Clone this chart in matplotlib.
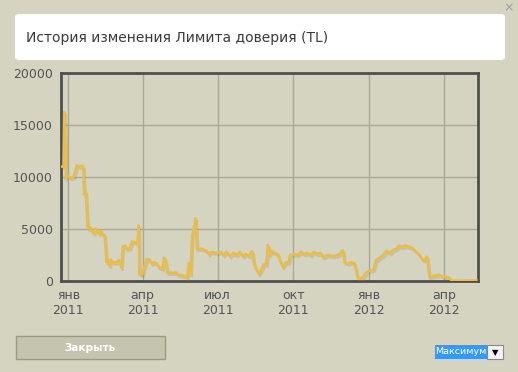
import matplotlib
matplotlib.use("Agg")
import matplotlib.pyplot as plt
import matplotlib.dates as mdates
import matplotlib.patheffects as pe
from matplotlib.patches import FancyBboxPatch, Rectangle

dates = [
 "2010-12-24","2010-12-26","2010-12-27","2010-12-28","2010-12-29","2011-01-01","2011-01-04","2011-01-07",
 "2011-01-09","2011-01-11","2011-01-14","2011-01-17","2011-01-19","2011-01-20","2011-01-22","2011-01-24",
 "2011-01-25","2011-01-27","2011-01-29","2011-02-01","2011-02-03","2011-02-05","2011-02-07","2011-02-09",
 "2011-02-11","2011-02-14","2011-02-16","2011-02-18","2011-02-20","2011-02-21","2011-02-24","2011-03-01",
 "2011-03-03","2011-03-05","2011-03-06","2011-03-08","2011-03-11","2011-03-13","2011-03-17","2011-03-19",
 "2011-03-24","2011-03-26","2011-03-27","2011-03-28","2011-03-31","2011-04-01","2011-04-03","2011-04-06",
 "2011-04-09","2011-04-12","2011-04-15","2011-04-18","2011-04-21","2011-04-25","2011-04-27","2011-04-29",
 "2011-05-01","2011-05-08","2011-05-12","2011-05-14","2011-05-22","2011-05-25","2011-05-27","2011-05-28",
 "2011-05-29","2011-05-31","2011-06-02","2011-06-04","2011-06-06","2011-06-12","2011-06-18","2011-06-20",
 "2011-06-24","2011-06-30","2011-07-05","2011-07-08","2011-07-12","2011-07-16","2011-07-20","2011-07-24",
 "2011-07-28","2011-08-01","2011-08-04","2011-08-08","2011-08-12","2011-08-14","2011-08-17","2011-08-20",
 "2011-08-23","2011-08-26","2011-08-29","2011-08-31","2011-09-02","2011-09-05","2011-09-08","2011-09-12",
 "2011-09-15","2011-09-18","2011-09-22","2011-09-25","2011-09-27","2011-10-02","2011-10-06","2011-10-10",
 "2011-10-14","2011-10-18","2011-10-22","2011-10-26","2011-10-30","2011-11-03","2011-11-06","2011-11-12",
 "2011-11-18","2011-11-24","2011-11-27","2011-11-30","2011-12-02","2011-12-06","2011-12-10","2011-12-14",
 "2011-12-18","2011-12-24","2011-12-28","2012-01-01","2012-01-06","2012-01-09","2012-01-13","2012-01-18",
 "2012-01-22","2012-01-26","2012-01-30","2012-02-03","2012-02-06","2012-02-10","2012-02-14","2012-02-18",
 "2012-02-22","2012-02-26","2012-03-01","2012-03-05","2012-03-08","2012-03-11","2012-03-14","2012-03-20",
 "2012-03-26","2012-03-30","2012-04-06","2012-04-10","2012-05-10",
]
values = [
 11000,11000,16300,14000,9900,10100,9900,10000,
 10500,11100,11000,11100,11000,8400,8500,5400,
 5000,5300,4800,4600,5000,4900,4500,4900,
 4500,4400,1900,2000,1400,2100,1800,1800,
 2000,1900,1200,3300,3400,3100,3200,3800,
 3700,3800,5400,700,600,700,1400,2100,
 2100,1700,1800,1700,1300,1200,2300,1900,
 800,800,800,600,500,300,1700,1800,
 600,4400,4900,6100,3100,3100,2900,2600,
 2800,2700,2800,2500,2800,2400,2700,2500,
 2800,2400,2600,2400,2900,1700,1100,700,
 1100,1600,1600,3500,2600,2900,2700,2600,
 1900,1400,1800,1800,2500,2600,2500,2800,
 2600,2700,2500,2800,2600,2700,2300,2500,
 2400,2500,2700,3000,1800,1700,1800,1700,
 300,300,800,1000,1100,2000,2200,2500,
 2900,2700,3000,3100,3400,3300,3400,3300,
 3200,2900,2600,2100,2000,2400,400,500,
 600,400,400,30,50,
]
tick_dates = ["2011-01-01","2011-04-01","2011-07-01","2011-10-01","2012-01-01","2012-04-01"]
tick_labels = ["янв\n2011","апр\n2011","июл\n2011","окт\n2011","янв\n2012","апр\n2012"]
y_ticks = [0, 5000, 10000, 15000, 20000]
title = "История изменения Лимита доверия (TL)"

W, H = 518, 372
BG = "#d5d4c1"
fig = plt.figure(figsize=(W/100, H/100), dpi=100, facecolor=BG)

def px(x0, y0, w, h):
    return [x0/W, 1-(y0+h)/H, w/W, h/H]

# title box
fig.patches.append(FancyBboxPatch((15/W, 1-60/H), 490/W, 46/H,
    boxstyle="round,pad=0,rounding_size=0.008", transform=fig.transFigure,
    facecolor="white", edgecolor="none"))
fig.text(26/W, 1-38/H, title, fontsize=10, color="#3a3a3a", va="center", ha="left",
         family="DejaVu Sans")
fig.text(509/W, 1-8/H, "×", fontsize=9, color="#a0a096", ha="center", va="center")

ax = fig.add_axes(px(61, 73, 417, 208))
ax.set_facecolor(BG)
d = [mdates.datestr2num(s) for s in dates]
ax.plot(d, values, color="#ecbd3e", lw=1.8, solid_joinstyle="miter",
        path_effects=[pe.SimpleLineShadow(offset=(1.0, -1.5), shadow_color="#8a8a7a", alpha=0.25),
                      pe.Normal()], zorder=3)
ax.set_ylim(0, 20000)
ax.set_xlim(mdates.datestr2num("2010-12-23"), mdates.datestr2num("2012-05-12"))
ax.set_yticks(y_ticks)
ax.set_xticks([mdates.datestr2num(s) for s in tick_dates])
ax.set_xticklabels(tick_labels)
ax.grid(True, color="#aaa998", lw=1)
ax.set_axisbelow(True)
ax.tick_params(length=0, labelsize=9, labelcolor="#555555", pad=6)
for s in ax.spines.values():
    s.set_color("#4f4f4f")
    s.set_linewidth(2)

# close button
fig.patches.append(Rectangle((16/W, 1-359/H), 149/W, 23/H, transform=fig.transFigure,
    facecolor="#c5c4ae", edgecolor="#9c9b82", lw=1))
fig.text(90/W, 1-348/H, "Закрыть", fontsize=7.5, color="white", fontweight="bold",
         ha="center", va="center")

# dropdown
fig.patches.append(Rectangle((435/W, 1-359/H), 52/W, 14/H, transform=fig.transFigure,
    facecolor="#3399ff", edgecolor="none"))
fig.text(461/W, 1-352/H, "Максимум", fontsize=6.8, color="white", ha="center", va="center")
fig.patches.append(Rectangle((487/W, 1-359/H), 16/W, 14/H, transform=fig.transFigure,
    facecolor="#f2f2f2", edgecolor="#888888", lw=0.8))
fig.text(495/W, 1-352.5/H, "▼", fontsize=6, color="black", ha="center", va="center")

fig.savefig("out.png", dpi=100, facecolor=BG)
